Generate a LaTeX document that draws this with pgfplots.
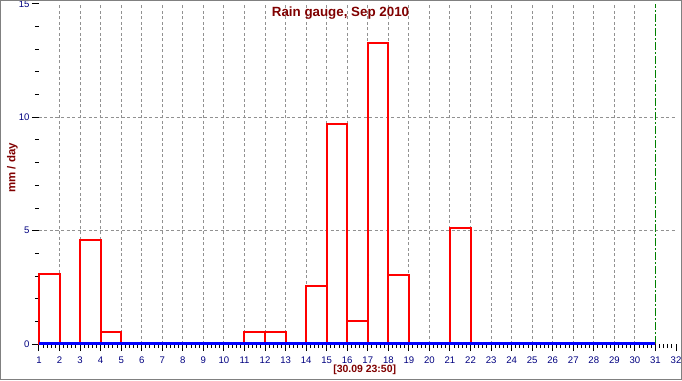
\documentclass[border=0pt]{standalone}
\usepackage{fontspec}
\setmainfont{Liberation Sans}
\usepackage{pgfplots}
\pgfplotsset{compat=1.18}
\definecolor{dkred}{RGB}{128,0,0}
\definecolor{navyblue}{RGB}{0,0,128}
\definecolor{gridgray}{RGB}{145,145,145}
\definecolor{framegray}{RGB}{128,128,128}
\definecolor{axisblue}{RGB}{0,0,255}
\definecolor{markgreen}{RGB}{0,128,0}
\begin{document}
\begin{tikzpicture}[x=1bp,y=1bp]
\useasboundingbox (-39,-36) rectangle (643,344);
\begin{axis}[
  at={(0,0)}, anchor=south west,
  scale only axis, width=637bp, height=340bp,
  xmin=1, xmax=32, ymin=0, ymax=15,
  clip=false,
  axis line style={draw=none},
  xtick={1,...,32}, ytick={0,5,10,15},
  minor x tick num=4, minor y tick num=4,
  xtick pos=bottom, ytick pos=left,
  tick align=outside,
  major tick length=7bp, minor tick length=4bp,
  tick style={black, line width=1bp},
  ticklabel style={font=\fontsize{9.6}{10}\selectfont, text=navyblue},
  xticklabel style={yshift=-2bp},
  yticklabel style={xshift=1bp},
  /pgf/number format/assume math mode=true,
  extra x ticks={2,...,30},
  extra x tick labels={},
  extra x tick style={grid=major, major tick length=0pt, minor tick num=0},
  extra y ticks={5,10},
  extra y tick labels={},
  extra y tick style={grid=major, major tick length=0pt, minor tick num=0},
  major grid style={draw=gridgray, line width=1bp, dash pattern=on 3bp off 2.5bp},
]
\addplot[color=markgreen, line width=1.5bp, dash pattern=on 8bp off 2bp on 2bp off 2bp, mark=none] coordinates {(31,0) (31,15)};
\addplot[ybar interval, draw=red, line width=2bp, fill=none] coordinates {
(1,3.07) (2,0) (3,4.59) (4,0.54) (5,0) (6,0) (7,0) (8,0) (9,0) (10,0)
(11,0.54) (12,0.54) (13,0) (14,2.57) (15,9.70) (16,1.03) (17,13.26) (18,3.06)
(19,0) (20,0) (21,5.13) (22,0) (23,0) (24,0) (25,0) (26,0) (27,0) (28,0)
(29,0) (30,0) (31,0)
};
\draw[draw=axisblue, line width=2.6bp] ([yshift=0.8bp]axis cs:1,0) -- ([yshift=0.8bp]axis cs:31,0);
\end{axis}
\node[text=dkred, font=\bfseries\fontsize{13.4}{14}\selectfont] at (301.5,331) {Rain gauge, Sep 2010};
\node[rotate=90, text=dkred, font=\bfseries\fontsize{11.5}{12}\selectfont] at (-26.5,176) {mm / day};
\node[text=dkred, font=\bfseries\fontsize{10.5}{11}\selectfont] at (325.7,-25.5) {[30.09 23:50]};
\draw[draw=framegray, line width=1.5bp] (-38.25,-35.25) rectangle (642.25,343.25);
\end{tikzpicture}
\end{document}
